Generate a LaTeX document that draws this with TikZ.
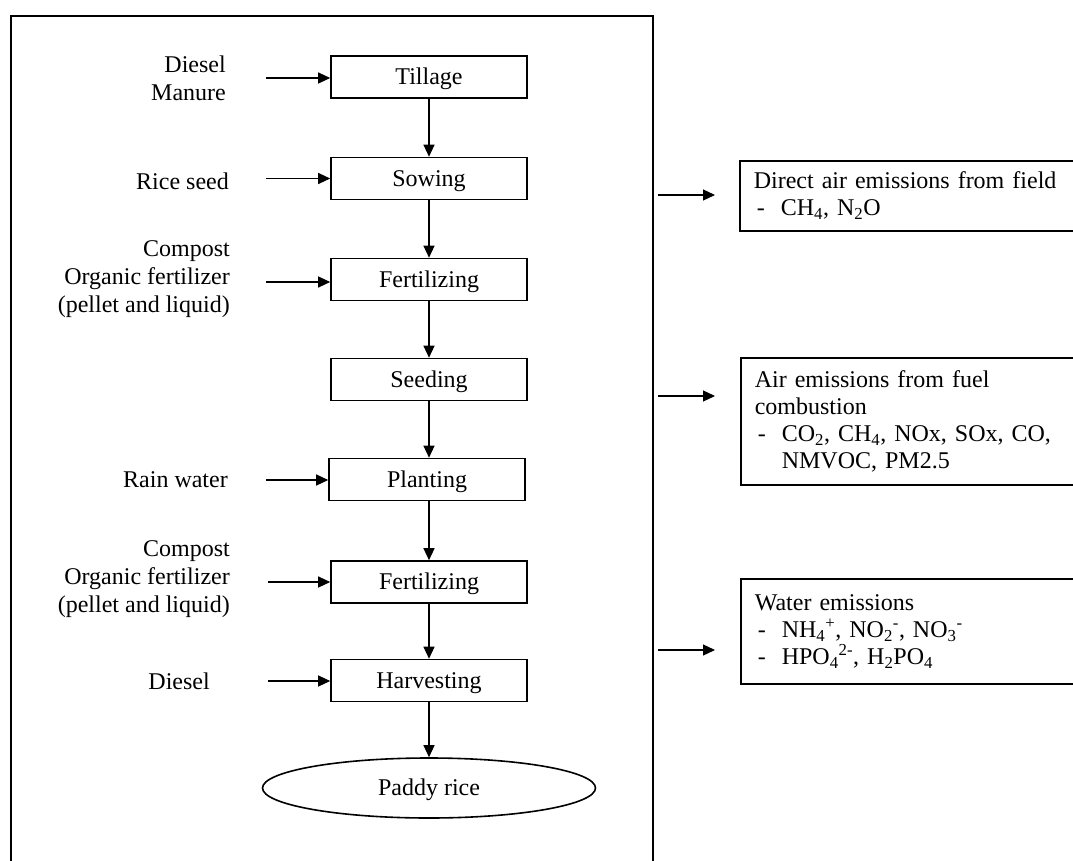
\documentclass[tikz,border=0pt]{standalone}
\usepackage{fontspec}
\setmainfont{Liberation Serif}
\usetikzlibrary{arrows.meta,shapes.geometric}
\begin{document}
\begin{tikzpicture}[x=1pt,y=-1pt,
  stepbox/.style={draw,line width=1.6pt,minimum width=196pt,minimum height=42pt,inner sep=0pt,text height=18pt,text depth=3pt,font=\fontsize{24}{28}\selectfont},
  inlabel/.style={anchor=east,align=right,inner sep=0pt,font=\fontsize{24}{28}\selectfont},
  embox/.style={draw,line width=1.6pt,anchor=north west,text width=320pt,inner xsep=14pt,inner ysep=0pt,align=left,font=\fontsize{24}{27}\selectfont},
  flow/.style={line width=1.2pt,-{Triangle[length=12pt,width=11pt]}}]
\useasboundingbox (0,0) rectangle (1073,861);
\clip (0,0) rectangle (1073,861);
\fill[white] (0,0) rectangle (1073,861);
% frame
\draw[line width=2pt] (11,875) -- (11,16) -- (653,16) -- (653,875);
% process boxes
\node[stepbox] (till) at (429,77) {Tillage};
\node[stepbox] (sow) at (429,178.5) {Sowing};
\node[stepbox] (fert1) at (429,279.5) {Fertilizing};
\node[stepbox] (seed) at (429,379.5) {Seeding};
\node[stepbox] (plant) at (427,479.5) {Planting};
\node[stepbox] (fert2) at (429,582) {Fertilizing};
\node[stepbox] (harv) at (429,680.5) {Harvesting};
\node[draw,ellipse,line width=1.6pt,minimum width=333pt,minimum height=60pt,inner sep=0pt,text height=18pt,text depth=3pt,font=\fontsize{24}{28}\selectfont] (paddy) at (429,788) {Paddy rice};
% flow arrows
\draw[flow] (till.south -| 429,0) -- (sow.north -| 429,0);
\draw[flow] (sow.south -| 429,0) -- (fert1.north -| 429,0);
\draw[flow] (fert1.south -| 429,0) -- (seed.north -| 429,0);
\draw[flow] (seed.south -| 429,0) -- (plant.north -| 429,0);
\draw[flow] (plant.south -| 429,0) -- (fert2.north -| 429,0);
\draw[flow] (fert2.south -| 429,0) -- (harv.north -| 429,0);
\draw[flow] (harv.south) -- (paddy.north);
% input labels
\node[inlabel] (in1) at (226,78) {Diesel\\Manure};
\node[inlabel] (in2) at (229,181) {Rice seed};
\node[inlabel] (in3) at (230,279) {Compost\\Organic fertilizer\\(pellet and liquid)};
\node[inlabel] (in4) at (228,480) {Rain water};
\node[inlabel] (in5) at (230,579) {Compost\\Organic fertilizer\\(pellet and liquid)};
\node[inlabel] (in6) at (210,681) {Diesel};
% input arrows
\coordinate (a1) at (266,78);
\coordinate (a2) at (266,178.5);
\coordinate (a3) at (266,282);
\coordinate (a4) at (266,480);
\coordinate (a5) at (268,582);
\coordinate (a6) at (268,681);
\draw[flow] (a1) -- (till.west |- a1);
\draw[flow] (a2) -- (sow.west |- a2);
\draw[flow] (a3) -- (fert1.west |- a3);
\draw[flow] (a4) -- (plant.west |- a4);
\draw[flow] (a5) -- (fert2.west |- a5);
\draw[flow] (a6) -- (harv.west |- a6);
% emission boxes
\node[embox,minimum height=70pt] (em1) at (739,160) {Direct air emissions from field\\\makebox[27pt][l]{\kern3pt-}CH\textsubscript{4}, N\textsubscript{2}O};
\node[embox,minimum height=127pt] (em2) at (740,357) {Air emissions from fuel\\combustion\\\makebox[27pt][l]{\kern3pt-}CO\textsubscript{2}, CH\textsubscript{4}, NOx, SOx, CO,\\\hspace*{27pt}NMVOC, PM2.5};
\node[embox,minimum height=105pt] (em3) at (740,578) {Water emissions\\\makebox[27pt][l]{\kern3pt-}NH\textsubscript{4}\textsuperscript{+}, NO\textsubscript{2}\textsuperscript{-}, NO\textsubscript{3}\textsuperscript{-}\\\makebox[27pt][l]{\kern3pt-}HPO\textsubscript{4}\textsuperscript{2-}, H\textsubscript{2}PO\textsubscript{4}};
% emission arrows
\coordinate (e1s) at (658,195);
\coordinate (e1e) at (715,195);
\coordinate (e2s) at (658,396);
\coordinate (e2e) at (715,396);
\coordinate (e3s) at (658,650);
\coordinate (e3e) at (715,650);
\draw[flow] (e1s) -- (e1e);
\draw[flow] (e2s) -- (e2e);
\draw[flow] (e3s) -- (e3e);
\end{tikzpicture}
\end{document}
